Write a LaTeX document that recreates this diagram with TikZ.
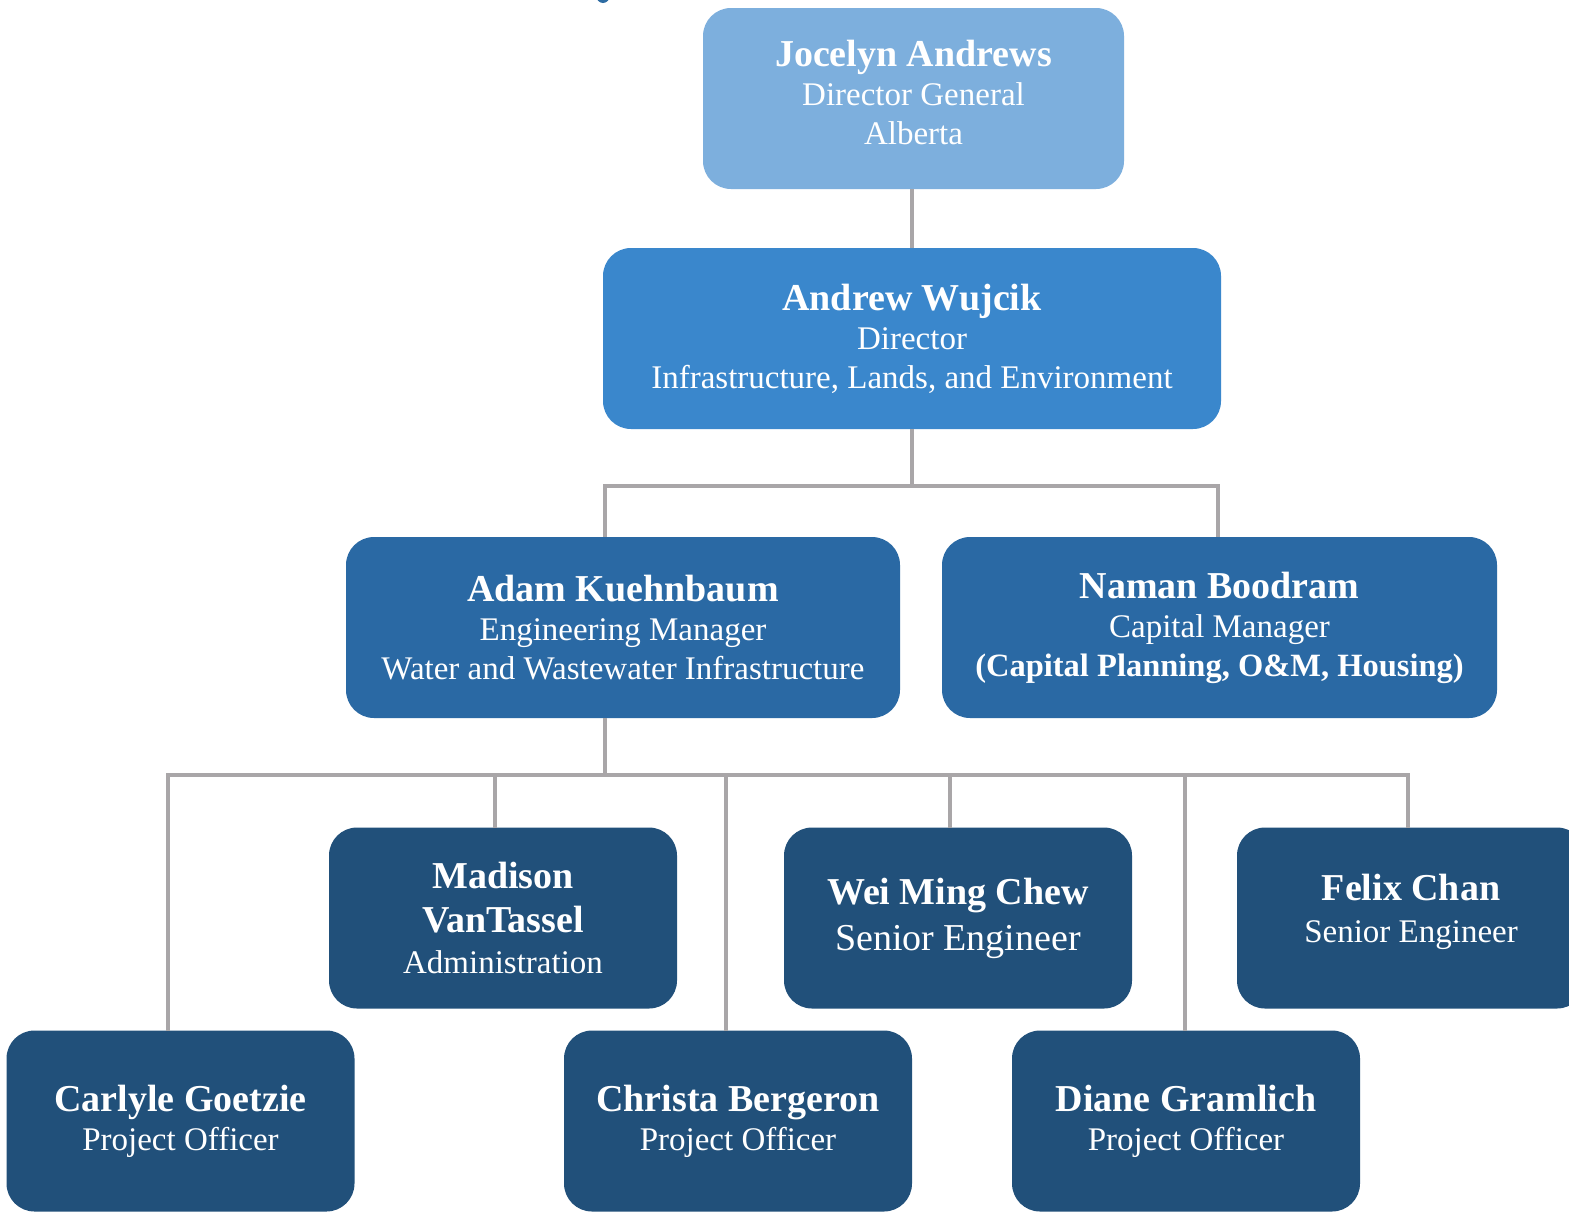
\documentclass[tikz,border=0pt]{standalone}
\usepackage{fontspec}
\setmainfont{Liberation Serif}
\definecolor{lvA}{HTML}{7DAFDD}
\definecolor{lvB}{HTML}{3A87CC}
\definecolor{lvC}{HTML}{2A69A4}
\definecolor{lvD}{HTML}{21507A}
\definecolor{conn}{HTML}{A9A6A8}
\begin{document}
\begin{tikzpicture}[x=1pt,y=-1pt,
  box/.style={rectangle, rounded corners=28pt, draw=none, text=white, align=center,
    minimum width=#1, minimum height=181pt, inner sep=0pt,
    font=\fontsize{33}{39}\selectfont},
  box/.default=348pt,
  link/.style={draw=conn, line width=4pt}]
\clip (0,0) rectangle (1569,1211);
\fill[white] (0,0) rectangle (1569,1211);
\fill[lvB!80!black] (603,-5) ellipse (7 and 8);
\newcommand{\nm}[1]{{\fontsize{38}{41}\selectfont\bfseries #1}}
% boxes
\node[box=421pt, fill=lvA] (jocelyn) at (913.5,98.5) {\nm{Jocelyn Andrews}\\Director General\\Alberta\\[-27pt]};
\node[box=618pt, fill=lvB] (andrew) at (912,338.5) {\nm{Andrew Wujcik}\\Director\\Infrastructure, Lands, and Environment};
\node[box=554pt, fill=lvC] (adam) at (623,627.5) {\nm{Adam Kuehnbaum}\\Engineering Manager\\Water and Wastewater Infrastructure};
\node[box=555pt, fill=lvC] (naman) at (1219.5,627.5) {\nm{Naman Boodram}\\Capital Manager\\{\fontsize{32.5}{39}\selectfont\bfseries (Capital Planning, O\&M, Housing)}};
\node[box, fill=lvD] (madison) at (503,918) {\nm{Madison}\\[5pt]\nm{VanTassel}\\[2pt]Administration};
\node[box, fill=lvD] (wei) at (958,918) {\nm{Wei Ming Chew}\\[7pt]{\fontsize{38}{41}\selectfont Senior Engineer}};
\node[box, fill=lvD] (felix) at (1411,918) {\nm{Felix Chan}\\[3pt]Senior Engineer\\[-19pt]};
\node[box, fill=lvD] (carlyle) at (180.5,1121) {\nm{Carlyle Goetzie}\\Project Officer};
\node[box, fill=lvD] (christa) at (738,1121) {\nm{Christa Bergeron}\\Project Officer};
\node[box, fill=lvD] (diane) at (1186,1121) {\nm{Diane Gramlich}\\Project Officer};
% connector points
\coordinate (jocOut) at (912,189);
\coordinate (b1) at (912,486);
\coordinate (adamIn) at (605,537);
\coordinate (namanIn) at (1218,537);
\coordinate (adamOut) at (605,718);
\coordinate (b2) at (605,775);
\coordinate (carlyleIn) at (168,1031);
\coordinate (madisonIn) at (495,828);
\coordinate (christaIn) at (726,1031);
\coordinate (weiIn) at (950,828);
\coordinate (dianeIn) at (1185,1031);
\coordinate (felixIn) at (1408,828);
% connectors
\draw[link] (jocOut) -- (andrew.north);
\draw[link] (andrew.south) -- (b1);
\draw[link] (b1) -| (adamIn);
\draw[link] (b1) -| (namanIn);
\draw[link] (adamOut) -- (b2);
\foreach \t in {carlyleIn,madisonIn,christaIn,weiIn,dianeIn,felixIn}
  \draw[link] (b2) -| (\t);
\end{tikzpicture}
\end{document}
